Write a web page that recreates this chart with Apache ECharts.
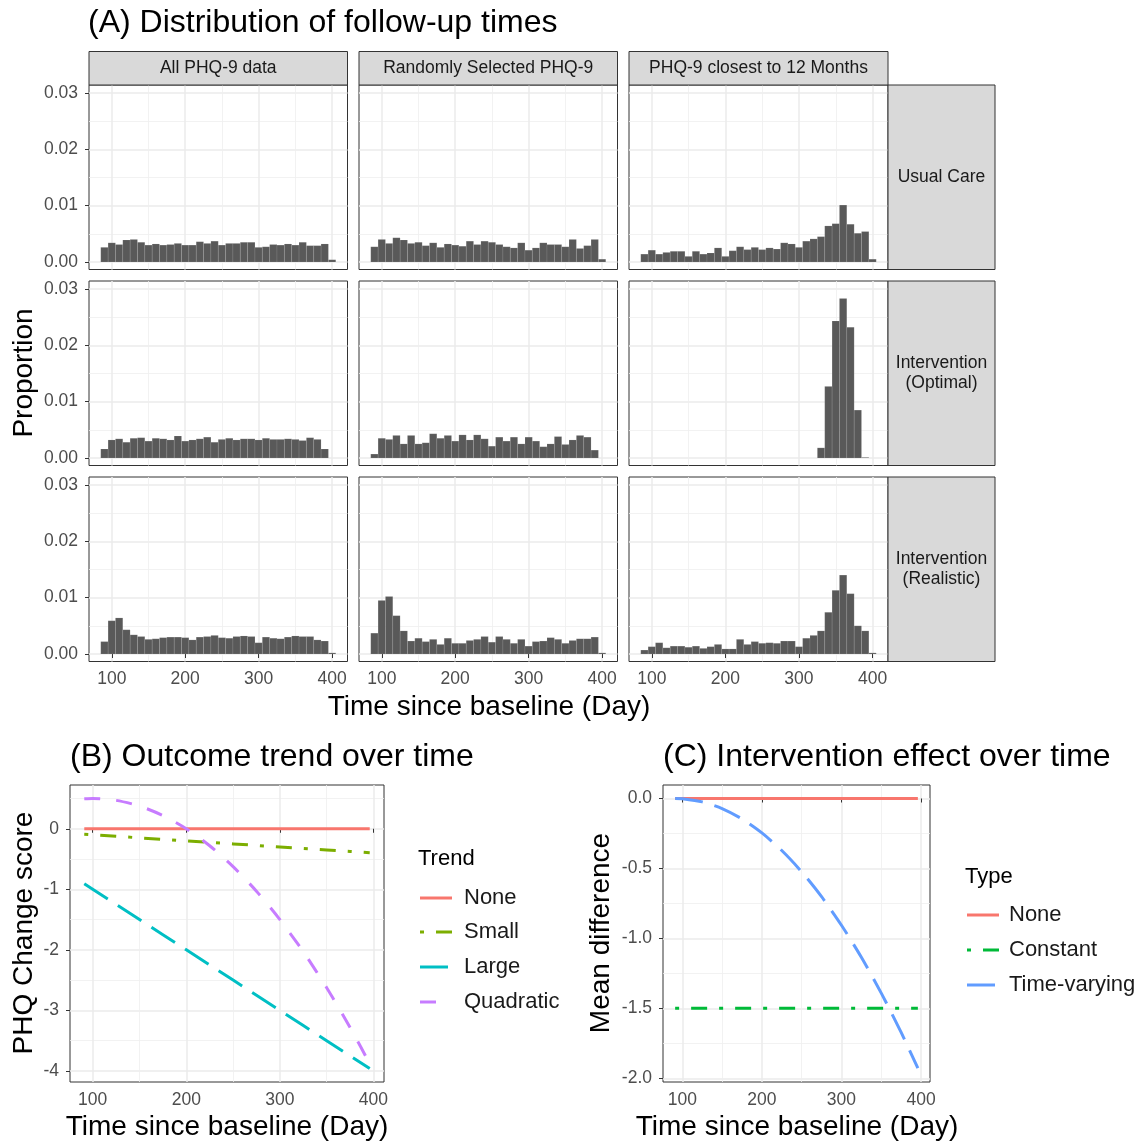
<!DOCTYPE html>
<html><head><meta charset="utf-8">
<script src="https://cdn.jsdelivr.net/npm/echarts@6/dist/echarts.min.js"></script>
<style>html,body{margin:0;padding:0;background:#fff}#c{width:1141px;height:1143px}</style>
</head><body><div id="c"></div>
<script>
const FONT = "'Liberation Sans', Arial, Helvetica, sans-serif";

// ---------- Panel A data ----------
const colLabels = ['All PHQ-9 data', 'Randomly Selected PHQ-9', 'PHQ-9 closest to 12 Months'];
const rowLabels = ['Usual Care', 'Intervention\n(Optimal)', 'Intervention\n(Realistic)'];
const binStarts = [85,95,105,115,125,135,145,155,165,175,185,195,205,215,225,235,245,255,265,275,285,295,305,315,325,335,345,355,365,375,385,395];
const binWidth = 10;
const usualAll = [0.0026,0.0034,0.0031,0.0039,0.0040,0.0035,0.0030,0.0032,0.0030,0.0031,0.0033,0.0030,0.0030,0.0036,0.0033,0.0037,0.0030,0.0033,0.0033,0.0035,0.0035,0.0026,0.0027,0.0031,0.0030,0.0032,0.0030,0.0035,0.0029,0.0029,0.0032,0.0004];
const usualRandom = [0.0027,0.0040,0.0033,0.0043,0.0039,0.0033,0.0035,0.0029,0.0034,0.0026,0.0032,0.0030,0.0028,0.0037,0.0031,0.0037,0.0035,0.0031,0.0027,0.0025,0.0034,0.0021,0.0025,0.0034,0.0031,0.0031,0.0027,0.0040,0.0024,0.0029,0.0040,0.0005];
const usual12 = [0.0014,0.0021,0.0014,0.0017,0.0019,0.0019,0.0010,0.0019,0.0014,0.0016,0.0025,0.0010,0.0020,0.0027,0.0022,0.0026,0.0022,0.0025,0.0023,0.0034,0.0032,0.0026,0.0037,0.0041,0.0045,0.0064,0.0068,0.0101,0.0067,0.0051,0.0054,0.0005];
const optimalAll = [0.0016,0.0032,0.0034,0.0028,0.0035,0.0036,0.0030,0.0035,0.0034,0.0032,0.0039,0.0030,0.0032,0.0034,0.0037,0.0028,0.0033,0.0035,0.0032,0.0034,0.0034,0.0032,0.0035,0.0033,0.0033,0.0034,0.0033,0.0031,0.0036,0.0033,0.0016,0];
const optimalRandom = [0.0007,0.0035,0.0033,0.0040,0.0025,0.0040,0.0025,0.0027,0.0043,0.0035,0.0040,0.0030,0.0041,0.0032,0.0041,0.0034,0.0021,0.0037,0.0030,0.0037,0.0025,0.0037,0.0030,0.0020,0.0025,0.0038,0.0024,0.0032,0.0040,0.0037,0.0014,0];
const optimal12 = [0,0,0,0,0,0,0,0,0,0,0,0,0,0,0,0,0,0,0,0,0,0,0,0,0.0018,0.0127,0.0243,0.0283,0.0232,0.0085,0.0001,0];
const realisticAll = [0.0022,0.0059,0.0064,0.0043,0.0034,0.0031,0.0026,0.0027,0.0029,0.0030,0.0030,0.0029,0.0025,0.0030,0.0031,0.0033,0.0029,0.0028,0.0031,0.0032,0.0031,0.0020,0.0030,0.0028,0.0027,0.0030,0.0032,0.0031,0.0031,0.0025,0.0023,0.0002];
const realisticRandom = [0.0037,0.0095,0.0102,0.0068,0.0041,0.0023,0.0028,0.0022,0.0026,0.0017,0.0028,0.0019,0.0019,0.0024,0.0026,0.0031,0.0021,0.0031,0.0026,0.0019,0.0026,0.0014,0.0022,0.0023,0.0029,0.0026,0.0019,0.0024,0.0027,0.0027,0.0030,0.0002];
const realistic12 = [0.0007,0.0013,0.0020,0.0011,0.0014,0.0014,0.0012,0.0014,0.0010,0.0013,0.0017,0.0009,0.0009,0.0026,0.0017,0.0022,0.0019,0.0020,0.0019,0.0023,0.0023,0.0013,0.0028,0.0033,0.0041,0.0074,0.0113,0.0140,0.0107,0.0050,0.0041,0.0002];
const xTicksA = [100, 200, 300, 400];
const xMinorA = [150, 250, 350];
const yTicksA = [0, 0.01, 0.02, 0.03];
const yMinorA = [0.005, 0.015, 0.025];

// ---------- Panel B data ----------
const trendNames = ['None', 'Small', 'Large', 'Quadratic'];
const trendDays = [91,100,125,150,175,200,225,250,275,300,325,350,375,396];
const trendNone = [0,0,0,0,0,0,0,0,0,0,0,0,0,0];
const trendSmall = [-0.091,-0.100,-0.125,-0.150,-0.175,-0.200,-0.225,-0.250,-0.275,-0.300,-0.325,-0.350,-0.375,-0.396];
const trendLarge = [-0.91,-1.00,-1.25,-1.50,-1.75,-2.00,-2.25,-2.50,-2.75,-3.00,-3.25,-3.50,-3.75,-3.96];
const trendQuadratic = [0.496,0.500,0.469,0.375,0.219,0.000,-0.281,-0.625,-1.031,-1.500,-2.031,-2.625,-3.281,-3.881];
const xTicksB = [100, 200, 300, 400];
const xMinorB = [150, 250, 350];
const yTicksB = [0, -1, -2, -3, -4];
const yMinorB = [0.5, -0.5, -1.5, -2.5, -3.5];

// ---------- Panel C data ----------
const typeNames = ['None', 'Constant', 'Time-varying'];
const effectDays = [91,100,125,150,175,200,225,250,275,300,325,350,375,396];
const effectNone = [0,0,0,0,0,0,0,0,0,0,0,0,0,0];
const effectConstant = [-1.5,-1.5,-1.5,-1.5,-1.5,-1.5,-1.5,-1.5,-1.5,-1.5,-1.5,-1.5,-1.5,-1.5];
const effectTimeVarying = [0,-0.002,-0.024,-0.072,-0.146,-0.246,-0.372,-0.524,-0.702,-0.906,-1.135,-1.391,-1.672,-1.928];
const xTicksC = [100, 200, 300, 400];
const xMinorC = [150, 250, 350];
const yTicksC = [0, -0.5, -1.0, -1.5, -2.0];
const yMinorC = [-0.25, -0.75, -1.25, -1.75];

// ---------- styles ----------
const trendColors = ['#F8766D', '#7CAE00', '#00BFC4', '#C77CFF'];
const trendDash = [null, [4, 12, 16, 12], [28, 12], [16, 16]];
const typeColors = ['#F8766D', '#00BA38', '#619CFF'];
const typeDash = [null, [4, 12, 16, 12], [28, 12]];

// ---------- layout ----------
const colLeft = [89, 359, 629];
const rowTop = [85, 281, 477];
const panelW = 258.5, panelH = 184.5;
const xRangeA = [69, 421];
const yRangeA = [-0.00133, 0.0314];

const grids = [], xAxes = [], yAxes = [], series = [];
const TICK = '#4D4D4D';

function addPanel(rect, xr, yr, xMaj, xMin, yMaj, yMin, showX, showY, yFmt) {
  const g = grids.length;
  grids.push({left: rect[0], top: rect[1], width: rect[2], height: rect[3], show: true,
    borderColor: '#333333', borderWidth: 1, backgroundColor: '#FFFFFF', containLabel: false, outerBoundsMode: 'none'});
  xAxes.push({type: 'value', gridIndex: g, min: xr[0], max: xr[1], position: 'bottom',
    axisLine: {show: false},
    axisTick: {show: showX, length: 4, lineStyle: {color: '#333333', width: 1}, customValues: xMaj},
    axisLabel: {show: showX, customValues: xMaj, margin: 9, color: TICK, fontSize: 17.5, fontFamily: FONT},
    splitLine: {show: true, lineStyle: {color: '#EBEBEB', width: 1.5}},
    minorTick: {show: false}, minorSplitLine: {show: false}});
  xAxes.push({type: 'value', gridIndex: g, min: xr[0], max: xr[1], position: 'top',
    axisLine: {show: false}, axisTick: {show: false, customValues: xMin},
    axisLabel: {show: false, customValues: xMin},
    splitLine: {show: true, lineStyle: {color: '#EFEFEF', width: 0.8}}});
  yAxes.push({type: 'value', gridIndex: g, min: yr[0], max: yr[1], position: 'left',
    axisLine: {show: false},
    axisTick: {show: showY, length: 4, lineStyle: {color: '#333333', width: 1}, customValues: yMaj},
    axisLabel: {show: showY, customValues: yMaj, margin: 11, color: TICK, fontSize: 17.5, fontFamily: FONT, formatter: yFmt},
    splitLine: {show: true, lineStyle: {color: '#EBEBEB', width: 1.5}},
    minorTick: {show: false}, minorSplitLine: {show: false}});
  yAxes.push({type: 'value', gridIndex: g, min: yr[0], max: yr[1], position: 'right',
    axisLine: {show: false}, axisTick: {show: false, customValues: yMin},
    axisLabel: {show: false, customValues: yMin},
    splitLine: {show: true, lineStyle: {color: '#EFEFEF', width: 0.8}}});
  return g;
}

function histSeries(g, values) {
  return {
    type: 'custom', xAxisIndex: 2 * g, yAxisIndex: 2 * g, silent: true, z: 3,
    data: values.map((v, i) => [binStarts[i], binStarts[i] + binWidth, v]),
    encode: {x: [0, 1], y: 2},
    renderItem(params, api) {
      const v = api.value(2);
      if (!(v > 0)) return null;
      const a = api.coord([api.value(0), 0]);
      const b = api.coord([api.value(1), v]);
      return {type: 'rect', shape: {x: a[0], y: b[1], width: b[0] - a[0], height: a[1] - b[1]},
        style: {fill: '#595959', stroke: 'rgba(255,255,255,0.16)', lineWidth: 0.6}};
    }
  };
}

const histData = [
  [usualAll, usualRandom, usual12],
  [optimalAll, optimalRandom, optimal12],
  [realisticAll, realisticRandom, realistic12]
];
for (let r = 0; r < 3; r++) {
  for (let c = 0; c < 3; c++) {
    const g = addPanel([colLeft[c], rowTop[r], c === 2 ? 259 : panelW, panelH], xRangeA, yRangeA,
      xTicksA, xMinorA, yTicksA, yMinorA, r === 2, c === 0, v => v.toFixed(2));
    series.push(histSeries(g, histData[r][c]));
  }
}

// Panel B
const gB = addPanel([70, 785, 314, 297], [75.75, 411.25], [-4.183, 0.723],
  xTicksB, xMinorB, yTicksB, yMinorB, true, true, v => String(Math.round(v)));
// Panel C
const gC = addPanel([663, 785, 267, 297], [75.75, 411.25], [-2.0265, 0.0965],
  xTicksC, xMinorC, yTicksC, yMinorC, true, true, v => v.toFixed(1));

function lineSeries(g, name, days, vals, color, dash, smooth) {
  return {type: 'line', name, xAxisIndex: 2 * g, yAxisIndex: 2 * g, color,
    data: days.map((d, i) => [d, vals[i]]), symbol: 'none', smooth: smooth || false,
    lineStyle: {color, width: 3, type: dash || 'solid', cap: 'butt'}, itemStyle: {color}, z: 4, silent: true,
    emphasis: {disabled: true}};
}
const trendVals = [trendNone, trendSmall, trendLarge, trendQuadratic];
trendNames.forEach((n, i) => series.push(lineSeries(gB, n, trendDays, trendVals[i], trendColors[i], trendDash[i], i === 3 ? 0.25 : false)));
const typeVals = [effectNone, effectConstant, effectTimeVarying];
typeNames.forEach((n, i) => series.push(lineSeries(gC, n, effectDays, typeVals[i], typeColors[i], typeDash[i], i === 2 ? 0.25 : false)));

// ---------- text / strips / legends ----------
const graphics = [];
function txt(x, y, text, size, opts) {
  opts = opts || {};
  graphics.push({type: 'text', x, y, rotation: opts.rot || 0, silent: true, z: 10,
    style: {text, fontSize: size, fontFamily: FONT, fill: opts.fill || '#000000',
      align: opts.align || 'center', verticalAlign: 'middle', textAlign: opts.align || 'center', textVerticalAlign: 'middle',
      lineHeight: opts.lh || size * 1.15}});
}
function strip(x, y, w, h, label) {
  graphics.push({type: 'rect', silent: true, z: 9, shape: {x, y, width: w, height: h},
    style: {fill: '#D9D9D9', stroke: '#333333', lineWidth: 1}});
  txt(x + w / 2, y + h / 2, label, 17.5, {fill: '#1A1A1A', lh: 19.5});
}
for (let c = 0; c < 3; c++) strip(colLeft[c], 51.5, c === 2 ? 259 : panelW, 33.5, colLabels[c]);
for (let r = 0; r < 3; r++) strip(888, rowTop[r], 107, panelH, rowLabels[r]);

txt(88, 23, '(A) Distribution of follow-up times', 32, {align: 'left'});
txt(70, 757, '(B) Outcome trend over time', 32, {align: 'left'});
txt(663, 757, '(C) Intervention effect over time', 32, {align: 'left'});
txt(24, 373, 'Proportion', 28, {rot: Math.PI / 2});
txt(489, 707, 'Time since baseline (Day)', 28);
txt(24, 933, 'PHQ Change score', 28, {rot: Math.PI / 2});
txt(227, 1127, 'Time since baseline (Day)', 28);
txt(601, 933, 'Mean difference', 28, {rot: Math.PI / 2});
txt(797, 1127, 'Time since baseline (Day)', 28);

function legend(title, tx, ty, names, colors, dashes, keyX, textX, rowsY) {
  txt(tx, ty, title, 22, {align: 'left'});
  names.forEach((n, i) => {
    graphics.push({type: 'line', silent: true, z: 10,
      shape: {x1: keyX, y1: rowsY[i], x2: keyX + 32, y2: rowsY[i]},
      style: {stroke: colors[i], lineWidth: 3, lineDash: dashes[i] || null, lineCap: 'butt'}});
    txt(textX, rowsY[i], n, 22, {align: 'left', fill: '#1A1A1A'});
  });
}
legend('Trend', 418, 859, trendNames, trendColors, trendDash, 420, 464, [898, 932, 967, 1002]);
legend('Type', 965, 877, typeNames, typeColors, typeDash, 967, 1009, [915, 950, 985]);

const chart = echarts.init(document.getElementById('c'), null, {renderer: 'canvas'});
chart.setOption({
  backgroundColor: '#FFFFFF',
  animation: false,
  grid: grids, xAxis: xAxes, yAxis: yAxes, series,
  graphic: {elements: graphics}
});
</script></body></html>
